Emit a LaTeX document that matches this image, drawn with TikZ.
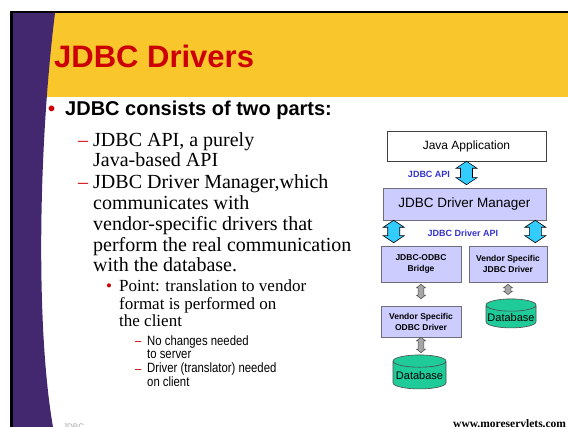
\documentclass[tikz,border=0pt]{standalone}
\usepackage{fontspec}
\setmainfont{Liberation Serif}
\setsansfont{Liberation Sans}
\newfontfamily\narrowsans[FakeStretch=0.84]{Liberation Sans}
\usetikzlibrary{calc,shapes.geometric}
\definecolor{slidepurple}{HTML}{44286F}
\definecolor{slideyellow}{HTML}{F9C62B}
\definecolor{slidered}{HTML}{CC0000}
\definecolor{apiblue}{HTML}{3333CC}
\definecolor{mgrlav}{HTML}{CCCCFF}
\definecolor{pipecyan}{HTML}{33CCFF}
\definecolor{dbgreen}{HTML}{1FCB99}
\definecolor{pipegray}{HTML}{A6A6A6}
\definecolor{boxline}{HTML}{6E6E7A}
\tikzset{
  txt/.style={anchor=base west, inner sep=0pt, align=left},
  ttl/.style={txt, font={\sffamily\bfseries\fontsize{31}{31}\selectfont}, color=slidered},
  lvla/.style={txt, font={\sffamily\bfseries\fontsize{20}{22}\selectfont}},
  lvlb/.style={txt, font={\rmfamily\fontsize{20}{20.75}\selectfont}},
  lvlc/.style={txt, font={\rmfamily\fontsize{17}{17.5}\selectfont}},
  lvld/.style={txt, font={\narrowsans\fontsize{13.5}{12.5}\selectfont}},
  bul/.style={color=slidered},
  bx/.style={draw=boxline, line width=0.6pt, align=center, inner sep=1pt},
  appbox/.style={bx, fill=white, draw=black!75, minimum width=159pt, minimum height=30pt, font={\sffamily\fontsize{12}{14}\selectfont}},
  mgrbox/.style={bx, fill=mgrlav, minimum width=163pt, minimum height=32pt, font={\sffamily\fontsize{13.5}{15}\selectfont}},
  drvbox/.style={bx, fill=mgrlav, minimum height=36pt, font={\sffamily\bfseries\fontsize{8.5}{11}\selectfont}},
  db/.style={cylinder, shape border rotate=90, aspect=0.25, draw=black!70, fill=dbgreen, line width=0.6pt, inner sep=1pt, font={\sffamily\fontsize{11}{12}\selectfont}},
  apilbl/.style={inner sep=0pt, color=apiblue, font={\sffamily\bfseries\fontsize{9}{10}\selectfont}},
  fat/.style n args={3}{to path={let \p1=(\tikztostart), \p2=(\tikztotarget) in
    (\x1,\y1) -- (\x1+#1,\y1-#3) -- (\x1+#2,\y1-#3) -- (\x1+#2,\y2+#3) -- (\x1+#1,\y2+#3) -- (\x1,\y2)
    -- (\x1-#1,\y2+#3) -- (\x1-#2,\y2+#3) -- (\x1-#2,\y1-#3) -- (\x1-#1,\y1-#3) -- cycle}},
  bigpipe/.style={fat={10.5pt}{6pt}{7pt}, draw=black, fill=pipecyan, line width=0.6pt},
  smallpipe/.style={fat={4.5pt}{2.8pt}{3.5pt}, draw=black!70, fill=pipegray, line width=0.5pt},
}
\begin{document}
\begin{tikzpicture}[x=1pt, y=-1pt]
  \useasboundingbox (0,0) rectangle (568,427);
  \clip (0,0) rectangle (568,427);
  \fill[white] (0,0) rectangle (568,427);
  \fill[black] (10,11) rectangle (568,427);
  \fill[white] (13,13) rectangle (568,427);
  \fill[slideyellow] (13,13) rectangle (568,97);
  \fill[slidepurple] (13,13) -- (55,13) .. controls (38,150) and (36,330) .. (53,427) -- (13,427) -- cycle;

  % multi-line nodes sit on the baseline of their last line
  \node[ttl] (title) at (54,68) {JDBC Drivers};
  \node[lvla, bul] (b1) at (48,116) {\textbullet};
  \node[lvla] (t1) at (65,116) {JDBC consists of two parts:};
  \node[lvlb, bul] (d1) at (78,147) {–};
  \node[lvlb] (t11) at (93,167) {JDBC API, a purely\\Java-based API};
  \node[lvlb, bul] (d2) at (78,189) {–};
  \node[lvlb] (t12) at (93,272) {JDBC Driver Manager,which\\communicates with\\vendor-specific drivers that\\perform the real communication\\with the database.};
  \node[lvlc, bul] (b2) at (106,292) {\textbullet};
  \node[lvlc] (t121) at (119,327) {Point: translation to vendor\\format is performed on\\the client};
  \node[lvld, bul] (d3) at (135,346) {–};
  \node[lvld] (t1211) at (147,358.5) {No changes needed\\to server};
  \node[lvld, bul] (d4) at (135,374) {–};
  \node[lvld] (t1212) at (147,386.5) {Driver (translator) needed\\on client};
  \node[txt, color=black!35, font={\sffamily\fontsize{8}{8}\selectfont}] (foot) at (63,430) {JDBC};
  \node[txt, font={\rmfamily\bfseries\fontsize{11.5}{12}\selectfont}] (site) at (453,428) {www.moreservlets.com};

  \node[appbox] (app) at (466.5,146) {Java Application};
  \node[mgrbox] (mgr) at (464.5,204) {JDBC Driver Manager};
  \node[drvbox, minimum width=80pt] (brg) at (421,264) {JDBC-ODBC\\Bridge};
  \node[drvbox, minimum width=78pt] (vjd) at (508,264) {Vendor Specific\\JDBC Driver};
  \node[drvbox, minimum width=80pt, minimum height=31pt] (vod) at (421,321.5) {Vendor Specific\\ODBC Driver};
  \node[db, minimum width=53pt, minimum height=34pt] (db1) at (419.5,376) {Database};
  \node[db, minimum width=50pt, minimum height=29pt] (db2) at (511,317.5) {Database};
  \node[apilbl] (api) at (429,174) {JDBC API};
  \node[apilbl] (dapi) at (463,233) {JDBC Driver API};

  \draw[bigpipe] (app.south) to ([yshift=3pt]app.south |- mgr.north);
  \draw[bigpipe] ([xshift=11pt]mgr.south west) to ([xshift=11pt,yshift=3pt]mgr.south west |- brg.north);
  \draw[bigpipe] ([xshift=-11pt]mgr.south east) to ([xshift=-11pt,yshift=3pt]mgr.south east |- vjd.north);
  \draw[smallpipe] ([yshift=-2pt]brg.south) to ([yshift=7pt]vod.north);
  \draw[smallpipe] (vod.south) to ([yshift=2pt]db1.north);
  \draw[smallpipe] ([yshift=-2pt]vjd.south) to ([yshift=4pt]db2.north);
\end{tikzpicture}
\end{document}
